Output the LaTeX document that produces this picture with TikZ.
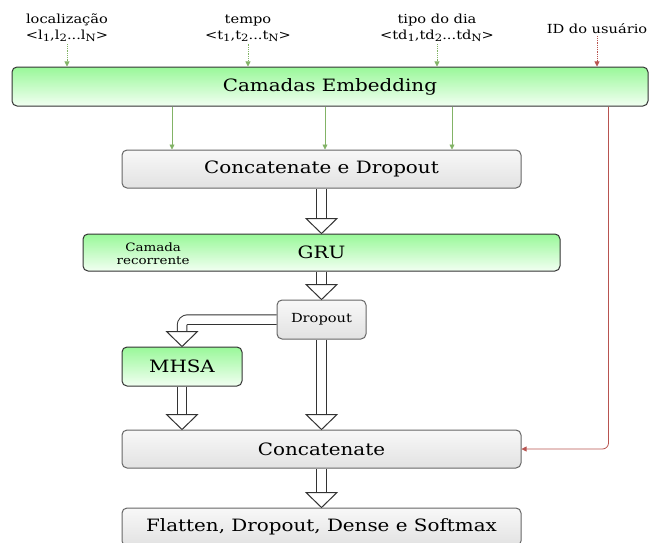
\documentclass[tikz,border=0pt]{standalone}
\usepackage{fontspec}
\setmainfont{DejaVu Serif}[FakeStretch=1.17]
\usetikzlibrary{positioning,arrows.meta,calc}
\definecolor{gtop}{HTML}{99F899}
\definecolor{gbot}{HTML}{F2FFF2}
\definecolor{ktop}{HTML}{F8F8F8}
\definecolor{kbot}{HTML}{E2E2E2}
\definecolor{edgegray}{HTML}{666666}
\definecolor{leaf}{HTML}{82B366}
\definecolor{brick}{HTML}{B85450}

% hollow block arrow: shaft, then an open head ending at #2
\newcommand\hollowtip[1]{%
  \draw[tipbox] ([shift={(-15.5pt,15pt)}]#1) -- (#1) -- ([shift={(15.5pt,15pt)}]#1) -- cycle;}
\newcommand\blockdown[2]{%
  \draw[shaft] (#1) -- ([yshift=14pt]#2);
  \hollowtip{#2}}
\newcommand\seqsub[1]{\raisebox{-0.35ex}{\fontsize{10}{10}\selectfont #1}}

\begin{document}
\begin{tikzpicture}[
  x=1pt,y=-1pt,
  node distance=40pt,
  every node/.style={inner sep=0pt,align=center},
  layer/.style={draw=black!80,line width=1pt,rounded corners=5pt,top color=gtop,bottom color=gbot,
    font=\fontsize{17}{20}\selectfont},
  plain/.style={draw=edgegray,line width=1pt,rounded corners=5pt,top color=ktop,bottom color=kbot,
    font=\fontsize{17}{20}\selectfont},
  input/.style={inner sep=2pt,font=\fontsize{12.5}{16}\selectfont},
  feed/.style={-{Triangle[length=5pt,width=5pt]},draw=leaf,line width=0.8pt},
  hint/.style={feed,densely dotted},
  userlink/.style={-{Triangle[length=5pt,width=5pt]},draw=brick,line width=0.8pt},
  shaft/.style={draw=black!80,line width=1pt,double=white,double distance=8.5pt},
  tipbox/.style={draw=black!80,fill=white,line width=1pt,line join=miter}
]
\useasboundingbox (0,0) rectangle (650,543);

% inputs
\node[input] (loc) at (67,28) {localização\\\textless l\seqsub{1},l\seqsub{2}...l\seqsub{N}\textgreater};
\node[input] (tim) at (248,28) {tempo\\\textless t\seqsub{1},t\seqsub{2}...t\seqsub{N}\textgreater};
\node[input] (day) at (437,28) {tipo do dia\\\textless td\seqsub{1},td\seqsub{2}...td\seqsub{N}\textgreater};
\node[input] (uid) at (597,29) {ID do usuário};

% layers
\node[layer,minimum width=636pt,minimum height=39pt] (emb) at (330,86.5) {Camadas Embedding};
\node[plain,minimum width=399pt,minimum height=38pt] (cd) at (321.5,169) {Concatenate e Dropout};
\node[layer,minimum width=477pt,minimum height=37pt,below=45pt of cd] (gru) {GRU};
\node[font=\fontsize{11.5}{13}\selectfont,right=34pt of gru.west,yshift=-1pt] (rec) {Camada\\recorrente};
\node[plain,minimum width=89pt,minimum height=39pt,below=28pt of gru,
  font=\fontsize{12.5}{15}\selectfont] (drop) {Dropout};
\node[layer,minimum width=120pt,minimum height=39pt] (mhsa) at (182,366.5) {MHSA};
\node[plain,minimum width=399pt,minimum height=38pt] (cat) at (321.5,449) {Concatenate};
\node[plain,minimum width=399pt,minimum height=38pt,below=39pt of cat] (out) {Flatten, Dropout, Dense e Softmax};

% embedding inputs
\foreach \src in {loc,tim,day}
  \draw[hint] (\src.south) -- (\src.south |- emb.north);
\draw[userlink,densely dotted] (uid.south) -- (uid.south |- emb.north);
\foreach \gx in {172,325,452}
  \draw[feed] let \p1=(emb.south), \p2=(cd.north) in (\gx pt,\y1) -- (\gx pt,\y2);
\draw[userlink,rounded corners=6pt] ([xshift=-40pt]emb.south east) |- (cat.east);

% block arrows
\blockdown{cd.south}{gru.north}
\blockdown{gru.south}{drop.north}
\draw[shaft,rounded corners=6pt] (drop.west) -| ([yshift=14pt]mhsa.north);
\hollowtip{mhsa.north}
\coordinate (mhsain) at (mhsa.south |- cat.north);
\blockdown{mhsa.south}{mhsain.center}
\blockdown{drop.south}{cat.north}
\blockdown{cat.south}{out.north}
\end{tikzpicture}
\end{document}
